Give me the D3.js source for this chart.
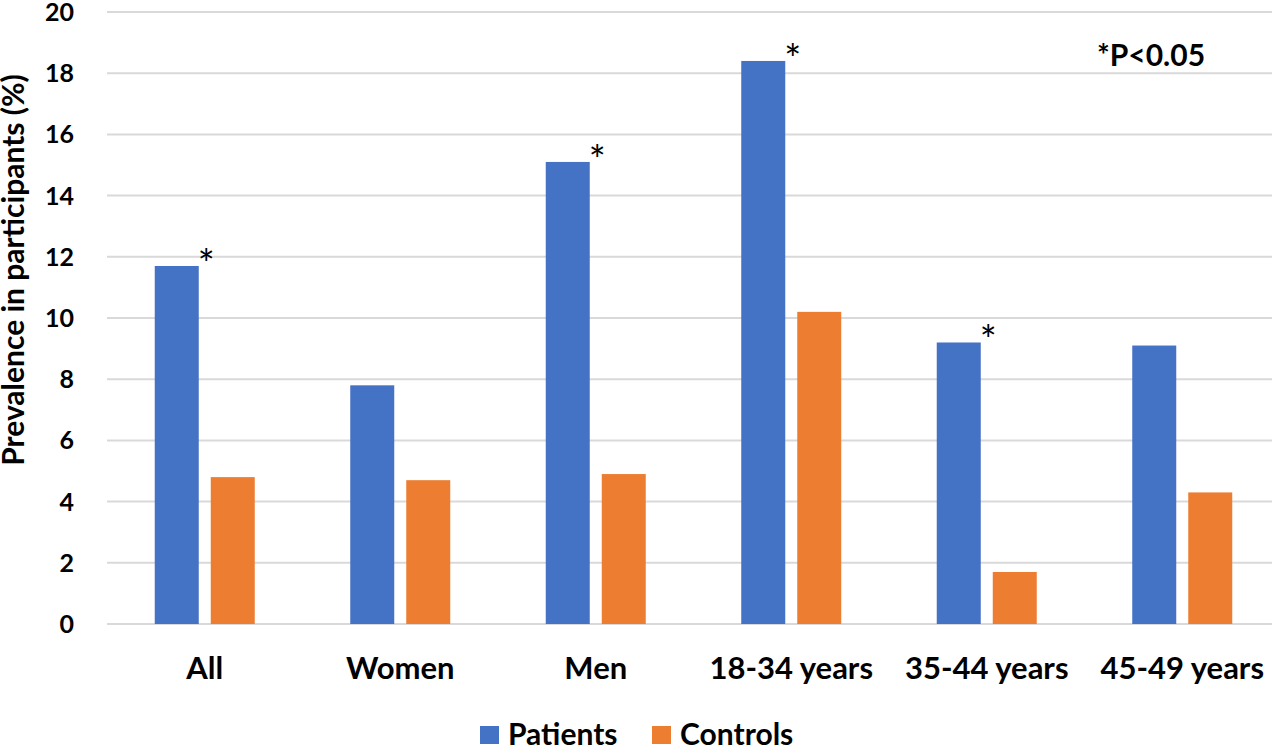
<!DOCTYPE html>
<html>
<head>
<meta charset="utf-8">
<script src="https://cdn.jsdelivr.net/npm/d3@7"></script>
<style>
  body { margin: 0; background: #fff; }
  text { font-family: Lato, "Open Sans", sans-serif; }
</style>
</head>
<body>
<div id="chart"></div>
<script>
// chart data
const categories = ["All", "Women", "Men", "18-34 years", "35-44 years", "45-49 years"];
const seriesNames = ["Patients", "Controls"];
const patients = [11.7, 7.8, 15.1, 18.4, 9.2, 9.1];
const controls = [4.8, 4.7, 4.9, 10.2, 1.7, 4.3];
const significant = [true, false, true, true, true, false];
const yTicks = [0, 2, 4, 6, 8, 10, 12, 14, 16, 18, 20];

const width = 1280;
const height = 746;
const colors = ["#4472C4", "#ED7D31"];

const svg = d3.select("#chart")
    .append("svg")
    .attr("width", width)
    .attr("height", height);

// plot area
const plotLeft = 107, plotRight = 1280, plotTop = 12, plotBottom = 624;

const x = d3.scaleBand()
    .domain(categories)
    .range([plotLeft, plotRight]);

// two bars of 44px with a 12px gap inside each category
const xInner = d3.scaleBand()
    .domain(seriesNames)
    .range([0, 100])
    .paddingInner(12 / 56);

const y = d3.scaleLinear()
    .domain([0, 20])
    .range([plotBottom, plotTop]);

// gridlines
svg.append("g")
    .selectAll("line")
    .data(yTicks)
    .enter().append("line")
    .attr("x1", plotLeft)
    .attr("x2", 1272)
    .attr("y1", d => y(d))
    .attr("y2", d => y(d))
    .attr("stroke", "#d9d9d9")
    .attr("stroke-width", 2);

// y tick labels
svg.append("g")
    .selectAll("text")
    .data(yTicks)
    .enter().append("text")
    .attr("x", 74)
    .attr("y", d => y(d) + 9)
    .attr("text-anchor", "end")
    .attr("font-size", 25)
    .attr("font-weight", "bold")
    .attr("fill", "#000")
    .text(d => d);

// y axis title
svg.append("text")
    .attr("transform", "translate(24,270) rotate(-90)")
    .attr("text-anchor", "middle")
    .attr("font-size", 30)
    .attr("font-weight", "bold")
    .attr("fill", "#000")
    .text("Prevalence in participants (%)");

// bars
const rows = categories.map((c, i) => ({ cat: c, values: [patients[i], controls[i]], sig: significant[i] }));

const groups = svg.append("g")
    .selectAll("g")
    .data(rows)
    .enter().append("g")
    .attr("transform", d => `translate(${x(d.cat) + (x.bandwidth() - 100) / 2},0)`);

groups.selectAll("rect")
    .data(d => d.values.map((v, j) => ({ name: seriesNames[j], value: v, color: colors[j] })))
    .enter().append("rect")
    .attr("x", d => xInner(d.name))
    .attr("width", xInner.bandwidth())
    .attr("y", d => y(d.value))
    .attr("height", d => y(0) - y(d.value))
    .attr("fill", d => d.color);

// significance stars
groups.filter(d => d.sig)
    .append("text")
    .attr("x", xInner("Patients") + xInner.bandwidth() - 1)
    .attr("y", d => y(d.values[0]) + 13)
    .attr("font-family", "DejaVu Sans")
    .attr("font-size", 40)
    .attr("fill", "#000")
    .text("*");

// x labels
svg.append("g")
    .selectAll("text")
    .data(categories)
    .enter().append("text")
    .attr("x", d => x(d) + x.bandwidth() / 2)
    .attr("y", 679)
    .attr("text-anchor", "middle")
    .attr("font-size", 31)
    .attr("font-weight", "bold")
    .attr("fill", "#000")
    .text(d => d);

// p value note
svg.append("text")
    .attr("x", 1097)
    .attr("y", 66)
    .attr("font-size", 30)
    .attr("font-weight", "bold")
    .attr("fill", "#000")
    .text("*P<0.05");

// legend
const legendX = [480, 652];
const legend = svg.append("g")
    .selectAll("g")
    .data(seriesNames)
    .enter().append("g")
    .attr("transform", (d, i) => `translate(${legendX[i]},726)`);

legend.append("rect")
    .attr("width", 19)
    .attr("height", 18)
    .attr("fill", (d, i) => colors[i]);

legend.append("text")
    .attr("x", 28)
    .attr("y", 19)
    .attr("font-size", 30)
    .attr("font-weight", "bold")
    .attr("fill", "#000")
    .text(d => d);
</script>
</body>
</html>
